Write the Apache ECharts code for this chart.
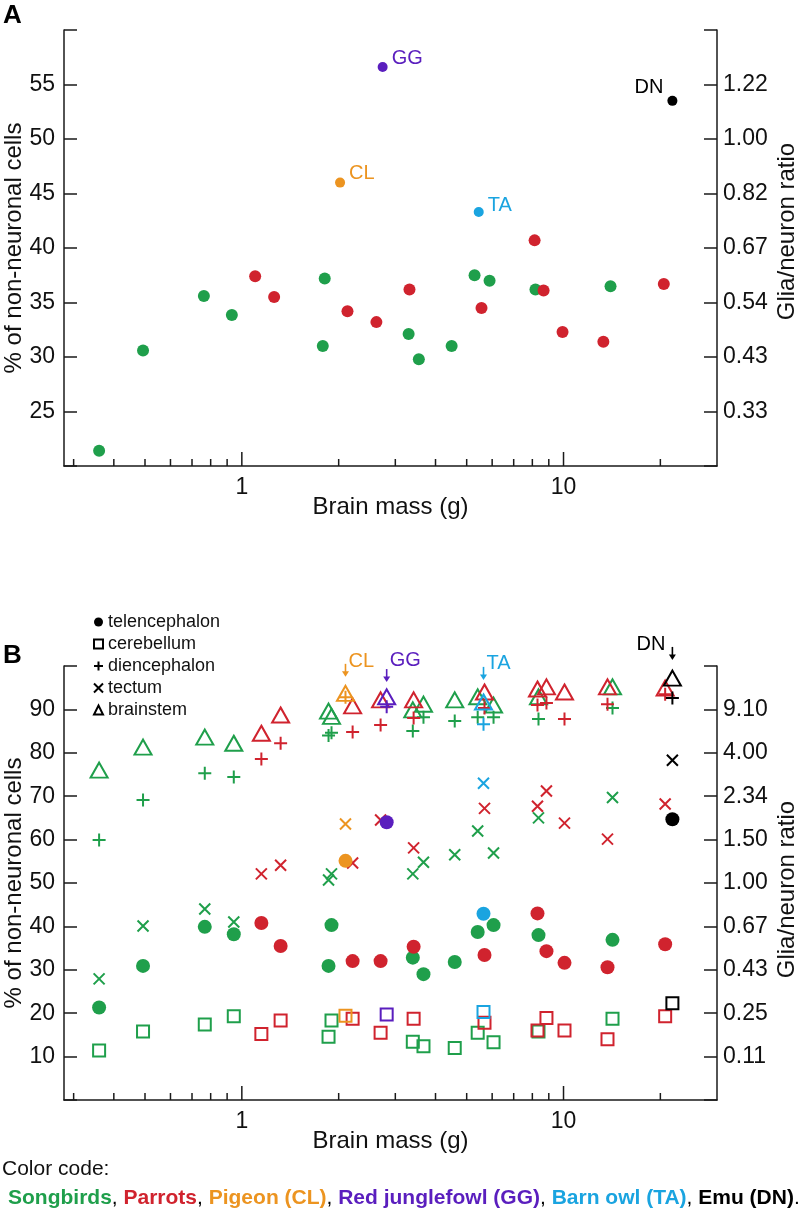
<!DOCTYPE html>
<html><head><meta charset="utf-8">
<script src="https://cdn.jsdelivr.net/npm/echarts@6/dist/echarts.min.js"></script>
<style>html,body{margin:0;padding:0;background:#fff}#c{width:802px;height:1212px}</style>
</head><body><div id="c"></div>
<script>
// ---------------- DATA ----------------
// Panel A: whole-brain % of non-neuronal cells vs brain mass (g)
const songbirdMassA = [0.36, 0.493, 0.762, 0.931, 1.785, 1.81, 3.30, 3.55, 4.49, 5.29, 5.89, 8.18, 14.0];
const songbirdPctA  = [21.4, 30.6, 35.6, 33.85, 31.0, 37.2, 32.1, 29.8, 31.0, 37.5, 37.0, 36.2, 36.5];
const parrotMassA   = [1.10, 1.26, 2.13, 2.62, 3.32, 5.56, 8.13, 8.67, 9.93, 13.3, 20.5];
const parrotPctA    = [37.4, 35.5, 34.2, 33.2, 36.2, 34.5, 40.7, 36.1, 32.3, 31.4, 36.7];
const singleNames   = ['CL', 'GG', 'TA', 'DN'];
const singleMassA   = [2.02, 2.74, 5.45, 21.8];
const singlePctA    = [46.0, 56.6, 43.3, 53.5];

// Panel B: per brain structure
const regionNames = ['telencephalon', 'cerebellum', 'diencephalon', 'tectum', 'brainstem'];
const songbirdMassB = [0.36, 0.493, 0.767, 0.944, 1.86, 1.90, 3.40, 3.67, 4.59, 5.41, 6.06, 8.36, 14.2];
const songbirdTel = [21.3, 30.9, 39.9, 38.2, 30.9, 40.3, 32.8, 29.0, 31.8, 38.7, 40.3, 38.0, 36.9];
const songbirdCer = [11.4, 15.8, 17.4, 19.3, 14.6, 18.3, 13.4, 12.4, 12.0, 15.5, 13.3, 15.8, 18.7];
const songbirdDie = [59.9, 69.1, 75.3, 74.4, 84.0, 84.6, 85.0, 88.2, 87.3, 88.2, 88.2, 87.8, 90.3];
const songbirdTec = [27.9, 40.1, 44.0, 41.0, 50.7, 52.1, 52.1, 54.8, 56.5, 62.0, 56.9, 65.0, 69.7];
const songbirdBst = [76.0, 81.3, 83.6, 82.2, 89.6, 88.4, 89.9, 91.2, 92.2, 92.9, 91.0, 92.9, 95.2];

const parrotMassB = [1.15, 1.32, 2.21, 2.70, 3.42, 5.68, 8.30, 8.85, 10.07, 13.7, 20.7];
const parrotTel = [40.8, 35.5, 32.0, 32.0, 35.3, 33.4, 43.0, 34.3, 31.6, 30.6, 35.9];
const parrotCer = [15.2, 18.3, 18.7, 15.5, 18.7, 17.8, 16.0, 18.9, 16.0, 14.0, 19.3];
const parrotDie = [78.6, 82.2, 84.8, 86.4, 88.0, 90.3, 91.0, 91.5, 87.8, 91.2, 93.5];
const parrotTec = [52.1, 54.1, 54.6, 64.5, 58.1, 67.2, 67.7, 71.2, 63.8, 60.1, 68.2];
const parrotBst = [84.5, 88.7, 90.8, 92.2, 92.2, 94.0, 94.7, 95.2, 94.0, 95.2, 94.9];

const singleMassB = [2.10, 2.82, 5.64, 21.8];
const singleTel = [55.1, 64.0, 42.9, 64.7];
const singleCer = [19.4, 19.7, 20.3, 22.3];
const singleDie = [92.8, 90.6, 86.6, 92.6];
const singleTec = [63.6, null, 73.0, 78.3];
const singleBst = [93.7, 92.9, 91.7, 97.2];
const arrowTipB = [97.5, 96.3, 96.8, 101.4];

// Axis ticks / labels
const yTicksA = [25, 30, 35, 40, 45, 50, 55];
const ratioLabelsA = ['0.33', '0.43', '0.54', '0.67', '0.82', '1.00', '1.22'];
const yTicksB = [10, 20, 30, 40, 50, 60, 70, 80, 90];
const ratioLabelsB = ['0.11', '0.25', '0.43', '0.67', '1.00', '1.50', '2.34', '4.00', '9.10'];
const xTickValues = [0.3, 0.4, 0.5, 0.6, 0.7, 0.8, 0.9, 1, 2, 3, 4, 5, 6, 7, 8, 9, 10, 20];
const xLabelValues = [1, 10];

// ---------------- STYLE ----------------
const FF = '"Liberation Sans", Arial, Helvetica, sans-serif';
const AX = '#1a1a1a';
const GREEN = '#1f9f4b', RED = '#d0232e';
const singleColors = ['#ec9420', '#5a1ebe', '#1aa4e0', '#000000'];
const plusPath = 'path://M5,0L5,10M0,5L10,5';
const crossPath = 'path://M0,0L10,10M10,0L0,10';
const regionStyle = {
  telencephalon: { symbol: 'circle', size: 14, hollow: false },
  cerebellum:    { symbol: 'rect', size: 12, hollow: true },
  diencephalon:  { symbol: plusPath, size: 13, hollow: true },
  tectum:        { symbol: crossPath, size: 11, hollow: true },
  brainstem:     { symbol: 'triangle', size: [17, 15], hollow: true }
};
const labelPlaceA = { CL: ['right', -9], GG: ['right', -9], TA: ['right', -7], DN: ['left', -13] };
const arrowTextB = { CL: ['right', 1], GG: ['right', -6], TA: ['right', 0], DN: ['left', 1] };

function itemStyleFor(color, hollow) {
  return hollow ? { color: 'transparent', borderColor: color, borderWidth: 2, opacity: 1 }
                : { color: color, borderWidth: 0, opacity: 1 };
}

function isMajor(v) { const l = Math.log10(v); return Math.abs(l - Math.round(l)) < 1e-9; }

const TICKFS = 23, TITLEFS = 24;
function xAxisFor(gi) {
  return {
    type: 'log', logBase: 10, gridIndex: gi, min: 0.28, max: 30,
    axisLine: { show: true, onZero: false, lineStyle: { color: AX, width: 1.5 } },
    axisTick: { show: false }, splitLine: { show: false }, minorTick: { show: false },
    axisLabel: {
      margin: 10, fontSize: TICKFS, color: '#111', fontFamily: FF,
      formatter: function (v) {
        const t = xLabelValues.find(t => Math.abs(t - v) < 1e-6 * t);
        return t === undefined ? '' : String(t);
      }
    },
    name: 'Brain mass (g)', nameLocation: 'middle', nameGap: 29, nameMoveOverlap: false,
    nameTextStyle: { fontSize: TITLEFS, color: '#111', fontFamily: FF }
  };
}
function yLeft(gi, min, max, interval, ticks) {
  return {
    type: 'value', gridIndex: gi, position: 'left', min, max, interval,
    axisLine: { show: true, onZero: false, lineStyle: { color: AX, width: 1.5 } },
    axisTick: { show: true, inside: true, length: 13, lineStyle: { color: AX, width: 1.5 } },
    splitLine: { show: false },
    axisLabel: { margin: 9, fontSize: TICKFS, color: '#111', fontFamily: FF,
      formatter: v => ticks.includes(v) ? String(v) : '' },
    name: '% of non-neuronal cells', nameLocation: 'middle', nameGap: 38, nameMoveOverlap: false,
    nameTextStyle: { fontSize: TITLEFS, color: '#111', fontFamily: FF }
  };
}
function yRight(gi, min, max, interval, ticks, labels, namePad) {
  return {
    type: 'value', gridIndex: gi, position: 'right', min, max, interval,
    axisLine: { show: true, onZero: false, lineStyle: { color: AX, width: 1.5 } },
    axisTick: { show: true, inside: true, length: 13, lineStyle: { color: AX, width: 1.5 } },
    splitLine: { show: false },
    axisLabel: { margin: 6, fontSize: TICKFS, color: '#111', fontFamily: FF,
      formatter: v => { const i = ticks.indexOf(v); return i < 0 ? '' : labels[i]; } },
    name: 'Glia/neuron ratio', nameLocation: 'middle', nameGap: 58, nameMoveOverlap: false,
    nameTextStyle: { fontSize: TITLEFS, color: '#111', fontFamily: FF, padding: namePad }
  };
}
function tickSeries(xi, yi, yMin) {
  return {
    type: 'custom', xAxisIndex: xi, yAxisIndex: yi, silent: true, clip: false, z: 5,
    data: xTickValues.map(v => [v, yMin]),
    renderItem: function (params, api) {
      const v = api.value(0);
      const p = api.coord([v, api.value(1)]);
      const L = isMajor(v) ? 14 : 7;
      return { type: 'line', shape: { x1: p[0], y1: p[1], x2: p[0], y2: p[1] - L },
               style: { stroke: AX, lineWidth: 1.5 } };
    }
  };
}

// ---------------- SERIES ----------------
const series = [];
// Panel A
series.push({ type: 'scatter', name: 'Songbirds A', xAxisIndex: 0, yAxisIndex: 0, symbolSize: 12,
  itemStyle: { color: GREEN, opacity: 1 }, data: songbirdMassA.map((m, i) => [m, songbirdPctA[i]]) });
series.push({ type: 'scatter', name: 'Parrots A', xAxisIndex: 0, yAxisIndex: 0, symbolSize: 12,
  itemStyle: { color: RED, opacity: 1 }, data: parrotMassA.map((m, i) => [m, parrotPctA[i]]) });
series.push({ type: 'scatter', name: 'Others A', xAxisIndex: 0, yAxisIndex: 0, symbolSize: 10,
  data: singleNames.map((n, i) => ({
    name: n, value: [singleMassA[i], singlePctA[i]],
    itemStyle: { color: singleColors[i], opacity: 1 },
    label: { show: true, formatter: '{b}', position: labelPlaceA[n][0], distance: 4,
      offset: [0, labelPlaceA[n][1]], color: singleColors[i], fontSize: 20, fontFamily: FF }
  })) });
series.push(tickSeries(0, 0, 20));

// Panel B
const songbirdB = [songbirdTel, songbirdCer, songbirdDie, songbirdTec, songbirdBst];
const parrotB = [parrotTel, parrotCer, parrotDie, parrotTec, parrotBst];
const singleB = [singleTel, singleCer, singleDie, singleTec, singleBst];
regionNames.forEach((r, k) => {
  const st = regionStyle[r];
  series.push({ type: 'scatter', name: 'Songbirds ' + r, xAxisIndex: 1, yAxisIndex: 2,
    symbol: st.symbol, symbolSize: st.size, itemStyle: itemStyleFor(GREEN, st.hollow),
    data: songbirdMassB.map((m, i) => [m, songbirdB[k][i]]) });
});
regionNames.forEach((r, k) => {
  const st = regionStyle[r];
  series.push({ type: 'scatter', name: 'Parrots ' + r, xAxisIndex: 1, yAxisIndex: 2,
    symbol: st.symbol, symbolSize: st.size, itemStyle: itemStyleFor(RED, st.hollow),
    data: parrotMassB.map((m, i) => [m, parrotB[k][i]]) });
});
regionNames.forEach((r, k) => {
  const st = regionStyle[r];
  series.push({ type: 'scatter', name: 'Others ' + r, xAxisIndex: 1, yAxisIndex: 2,
    symbol: st.symbol, symbolSize: st.size,
    data: singleNames.map((n, i) => singleB[k][i] == null ? null : ({
      name: n, value: [singleMassB[i], singleB[k][i]],
      itemStyle: itemStyleFor(singleColors[i], st.hollow) })).filter(d => d) });
});
// legend-only series
regionNames.forEach(r => {
  const st = regionStyle[r];
  series.push({ type: 'scatter', name: r, xAxisIndex: 1, yAxisIndex: 2, symbol: st.symbol,
    itemStyle: itemStyleFor('#000', st.hollow), data: [] });
});
// arrows + labels in B
series.push({
  type: 'custom', xAxisIndex: 1, yAxisIndex: 2, silent: true, clip: false, z: 10,
  data: singleNames.map((n, i) => [singleMassB[i], arrowTipB[i]]),
  renderItem: function (params, api) {
    const i = params.dataIndex, n = singleNames[i], c = singleColors[i];
    const p = api.coord([api.value(0), api.value(1)]);
    const x = p[0], tip = p[1], top = tip - 13;
    const left = arrowTextB[n][0] === 'left';
    return { type: 'group', children: [
      { type: 'line', shape: { x1: x, y1: top, x2: x, y2: tip - 4 }, style: { stroke: c, lineWidth: 1.6 } },
      { type: 'polygon', shape: { points: [[x - 3.5, tip - 5.5], [x + 3.5, tip - 5.5], [x, tip]] }, style: { fill: c } },
      { type: 'text', style: { text: n, x: left ? x - 7 : x + 3, y: top - 3 + arrowTextB[n][1],
          align: left ? 'right' : 'left', verticalAlign: 'middle', fill: c, font: '20px ' + FF } }
    ] };
  }
});
series.push(tickSeries(1, 2, 0));

// ---------------- OPTION ----------------
const option = {
  animation: false,
  backgroundColor: '#fff',
  grid: [
    { left: 64, top: 30, width: 653, height: 436, containLabel: false, outerBoundsMode: 'none' },
    { left: 64, top: 666, width: 653, height: 434, containLabel: false, outerBoundsMode: 'none' }
  ],
  xAxis: [xAxisFor(0), xAxisFor(1)],
  yAxis: [
    yLeft(0, 20, 60, 5, yTicksA), yRight(0, 20, 60, 5, yTicksA, ratioLabelsA, [0, 0, 0, 33]),
    yLeft(1, 0, 100, 10, yTicksB), yRight(1, 0, 100, 10, yTicksB, ratioLabelsB, [0, 13, 0, 0])
  ],
  legend: {
    orient: 'vertical', left: 93, top: 613, padding: 0, itemWidth: 9, itemHeight: 9, itemGap: 4,
    selectedMode: false,
    textStyle: { fontSize: 18, color: '#111', fontFamily: FF },
    data: regionNames.map(r => ({ name: r, icon: regionStyle[r].symbol,
      itemStyle: itemStyleFor('#000', regionStyle[r].hollow) }))
  },
  graphic: [
    { type: 'text', left: 3, top: 3, style: { text: 'A', font: 'bold 26px ' + FF, fill: '#000' } },
    { type: 'text', left: 3, top: 643, style: { text: 'B', font: 'bold 26px ' + FF, fill: '#000' } },
    { type: 'text', left: 2, top: 1159, style: { text: 'Color code:', font: '21px ' + FF, fill: '#111' } },
    { type: 'text', left: 8, top: 1188, style: {
      text: '{g|Songbirds}{k|, }{r|Parrots}{k|, }{o|Pigeon (CL)}{k|, }{p|Red junglefowl (GG)}{k|, }{b|Barn owl (TA)}{k|, }{e|Emu (DN)}{k|.}',
      font: 'bold 21px ' + FF,
      rich: {
        g: { fill: GREEN, font: 'bold 21px ' + FF },
        r: { fill: RED, font: 'bold 21px ' + FF },
        o: { fill: singleColors[0], font: 'bold 21px ' + FF },
        p: { fill: singleColors[1], font: 'bold 21px ' + FF },
        b: { fill: singleColors[2], font: 'bold 21px ' + FF },
        e: { fill: '#000', font: 'bold 21px ' + FF },
        k: { fill: '#000', font: '21px ' + FF }
      } } }
  ],
  series: series
};
const chart = echarts.init(document.getElementById('c'), null, { renderer: 'canvas' });
chart.setOption(option);
</script>
</body></html>
